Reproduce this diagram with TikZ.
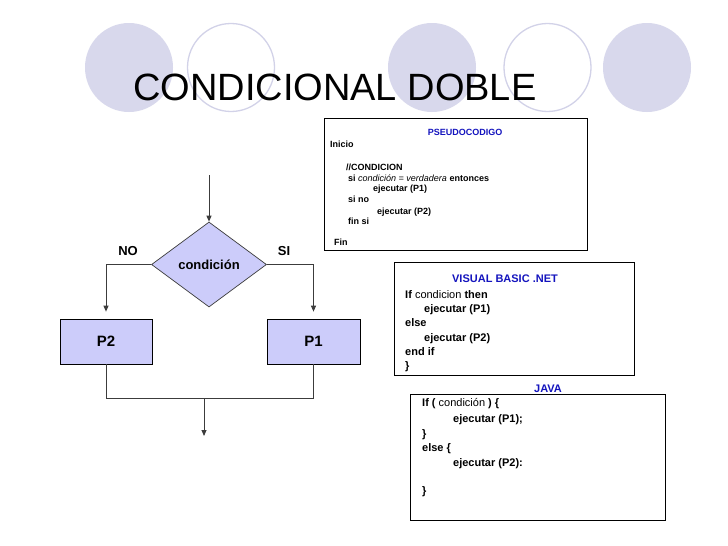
\documentclass[tikz,border=0pt]{standalone}
\usepackage{fontspec}
\setmainfont{Liberation Sans}
\usetikzlibrary{shapes.geometric,arrows.meta}
\definecolor{circfill}{RGB}{216,216,236}
\definecolor{circline}{RGB}{210,210,232}
\definecolor{boxfill}{RGB}{204,204,250}
\definecolor{codeblue}{RGB}{20,20,190}
\definecolor{linegray}{RGB}{60,60,60}
\tikzset{
  ring/.style={draw=circline, line width=1.3pt},
  blob/.style={fill=circfill},
  codebox/.style={draw=black, line width=0.8pt, inner sep=0pt},
  ps/.style={anchor=base west, inner sep=0pt, font=\fontsize{9}{10}\selectfont\bfseries},
  cd/.style={anchor=base west, inner sep=0pt, font=\fontsize{11}{12}\selectfont\bfseries},
  hd/.style={anchor=base, inner sep=0pt, text=codeblue},
  dec/.style={diamond, draw=linegray, fill=boxfill, line width=0.7pt, inner sep=0pt,
     minimum width=115pt, minimum height=85pt, font=\fontsize{13}{14}\selectfont\bfseries},
  proc/.style={rectangle, draw=black, fill=boxfill, line width=0.7pt, inner sep=0pt,
     minimum height=45pt, font=\fontsize{15}{16}\selectfont\bfseries},
  lbl/.style={inner sep=0pt, font=\fontsize{13}{14}\selectfont\bfseries},
  flow/.style={draw=linegray, line width=0.9pt},
  arr/.style={flow, -{Triangle[length=6pt,width=5pt]}},
}
\begin{document}
\begin{tikzpicture}[x=1pt,y=-1pt]
\useasboundingbox (0,0) rectangle (728,546);
\fill[white] (0,0) rectangle (728,546);
% decorative circles
\fill[blob] (129,67.5) ellipse [x radius=44, y radius=44.5];
\draw[ring] (231,67.5) ellipse [x radius=43.5, y radius=44];
\fill[blob] (432,67.5) ellipse [x radius=44, y radius=44.5];
\draw[ring] (547.5,67.5) ellipse [x radius=43.5, y radius=44];
\fill[blob] (647,67.5) ellipse [x radius=44, y radius=44.5];
% title
\node[anchor=base west, inner sep=0pt, font=\fontsize{38}{40}\selectfont] (title) at (133,100) {CONDICIONAL DOBLE};

% pseudocode box
\node[codebox, minimum width=263pt, minimum height=132pt] (pseudo) at (455.5,184) {};
\node[ps, hd, anchor=base] (psh) at (465,135.5) {PSEUDOCODIGO};
\node[ps] (ps1) at (330,147) {Inicio};
\node[ps] (ps2) at (346,170) {//CONDICION};
\node[ps] (ps3) at (348,181) {si \textmd{\itshape condición = verdadera} entonces};
\node[ps] (ps4) at (373,191.5) {ejecutar (P1)};
\node[ps] (ps5) at (348,202.5) {si no};
\node[ps] (ps6) at (377,214) {ejecutar (P2)};
\node[ps] (ps7) at (348,224.5) {fin si};
\node[ps] (ps8) at (334,245.5) {Fin};

% visual basic box
\node[codebox, minimum width=240pt, minimum height=113pt] (vb) at (514,318.5) {};
\node[cd, hd, anchor=base] (vbh) at (505,282) {VISUAL BASIC .NET};
\node[cd] (vb1) at (405,298) {If \textmd{condicion} then};
\node[cd] (vb2) at (424,312.5) {ejecutar (P1)};
\node[cd] (vb3) at (405,326.5) {else};
\node[cd] (vb4) at (424,341) {ejecutar (P2)};
\node[cd] (vb5) at (405,355) {end if};
\node[cd] (vb6) at (405,369) {\}};

% java box
\node[cd, hd, anchor=base] (jvh) at (548,392) {JAVA};
\node[codebox, minimum width=255pt, minimum height=126pt] (java) at (537.5,457) {};
\node[cd] (jv1) at (422,406) {If ( \textmd{condición} ) \{};
\node[cd] (jv2) at (453,422) {ejecutar (P1);};
\node[cd] (jv3) at (422,437) {\}};
\node[cd] (jv4) at (422,451) {else \{};
\node[cd] (jv5) at (453,466) {ejecutar (P2):};
\node[cd] (jv6) at (422,494) {\}};

% flowchart
\node[dec] (cond) at (209,264.5) {condición};
\node[proc, minimum width=92pt] (p2) at (106,341.5) {P2};
\node[proc, minimum width=93pt] (p1) at (313.5,341.5) {P1};
\node[lbl] (no) at (128,251.5) {NO};
\node[lbl] (si) at (284,251.5) {SI};
\coordinate (start) at (209,175);
\coordinate (mid) at (204,398);
\coordinate (stop) at (204,436);
\draw[arr] (start) -- (cond.north);
\draw[arr, shorten >=7pt] (cond.west) -| (p2.north);
\draw[arr, shorten >=7pt] (cond.east) -| (p1.north);
\draw[flow] (p2.south) |- (p1.south |- mid) -- (p1.south);
\draw[arr] (mid) -- (stop);
\end{tikzpicture}
\end{document}
